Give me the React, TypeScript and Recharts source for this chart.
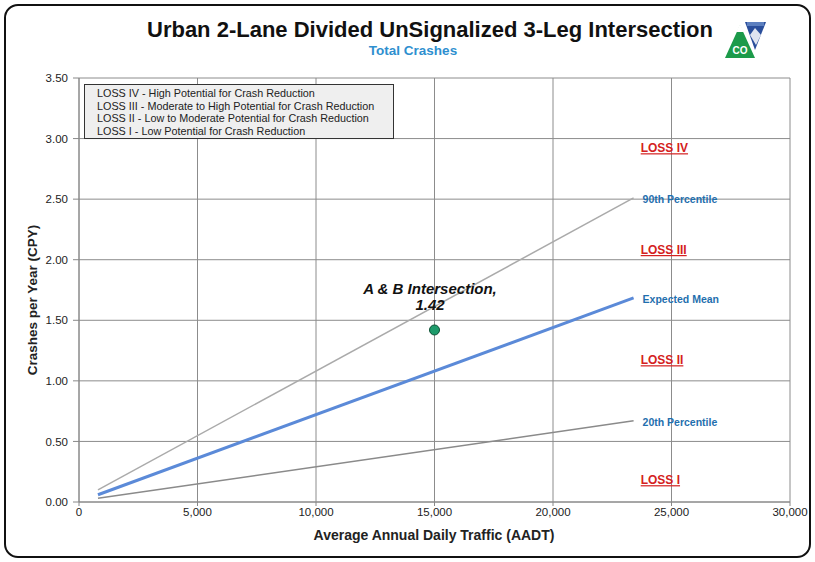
import React from 'react';
import {
  ComposedChart, Line, Scatter, XAxis, YAxis, CartesianGrid, ReferenceDot, LabelList,
} from 'recharts';

const xTicks = [0, 5000, 10000, 15000, 20000, 25000, 30000];
const yTicks = [0, 0.5, 1, 1.5, 2, 2.5, 3, 3.5];

const pct90 = [
  { aadt: 800, cpy: 0.1 },
  { aadt: 23400, cpy: 2.51 },
];
const expectedMean = [
  { aadt: 800, cpy: 0.06 },
  { aadt: 23400, cpy: 1.685 },
];
const pct20 = [
  { aadt: 800, cpy: 0.03 },
  { aadt: 23400, cpy: 0.67 },
];
const intersection = [{ aadt: 15000, cpy: 1.42, name: 'A & B Intersection' }];

const lossLabels = [
  { text: 'LOSS IV', aadt: 23700, cpy: 2.92 },
  { text: 'LOSS III', aadt: 23700, cpy: 2.08 },
  { text: 'LOSS II', aadt: 23700, cpy: 1.17 },
  { text: 'LOSS I', aadt: 23700, cpy: 0.18 },
];

const legendLines = [
  'LOSS IV - High Potential for Crash Reduction',
  'LOSS III - Moderate to High Potential for Crash Reduction',
  'LOSS II - Low to Moderate Potential for Crash Reduction',
  'LOSS I - Low Potential for Crash Reduction',
];

const FONT = '"Liberation Sans", Arial, sans-serif';

const endLabel = (text: string, count: number) => (props: any) => {
  const { x, y, index } = props;
  if (index !== count - 1) return null;
  return (
    <text x={x + 9} y={y + 5} fill="#1F6FAE" fontSize={10.5} fontWeight="bold" fontFamily={FONT}>
      {text}
    </text>
  );
};

const lossLabel = (text: string) => (props: any) => {
  const vb = props.viewBox || {};
  const cx = vb.x + (vb.width || 0) / 2;
  const cy = vb.y + (vb.height || 0) / 2;
  return (
    <text x={cx} y={cy + 4} fill="#D42020" fontSize={12} fontWeight="bold" fontFamily={FONT}
      textDecoration="underline">
      {text}
    </text>
  );
};

const pointLabel = (props: any) => {
  const { x, y, value } = props;
  return (
    <g>
      <text x={x} y={y - 31} textAnchor="middle" fontSize={15} fontWeight="bold" fontStyle="italic"
        fontFamily={FONT} fill="#111">
        A &amp; B Intersection,
      </text>
      <text x={x} y={y - 15} textAnchor="middle" fontSize={15} fontWeight="bold" fontStyle="italic"
        fontFamily={FONT} fill="#111">
        {Number(value).toFixed(2)}
      </text>
    </g>
  );
};

export default function App() {
  return (
    <div style={{ position: 'absolute', left: 0, top: 0, width: 815, height: 562, background: '#fff', fontFamily: FONT }}>
      <div style={{
        position: 'absolute', left: 4, top: 4, width: 807, height: 554,
        border: '2px solid #111', borderRadius: 14, boxSizing: 'border-box',
      }} />
      <svg style={{ position: 'absolute', left: 0, top: 0 }} width={815} height={70}>
        <text x={430} y={37} textAnchor="middle" fontSize={22} fontWeight="bold" fill="#111" fontFamily={FONT}>
          Urban 2-Lane Divided UnSignalized 3-Leg Intersection
        </text>
        <text x={413} y={55} textAnchor="middle" fontSize={13.5} fontWeight="bold" fill="#2E8FCF" fontFamily={FONT}>
          Total Crashes
        </text>
        <polygon points="740,25 725,58 755,58" fill="#1C9A4A" />
        <polygon points="736,32 740,24 744,32" fill="#fff" />
        <polygon points="745,22 766,22 755,50" fill="#2A4E9B" />
        <polygon points="750,35 755,28 761,35 756,45" fill="#fff" opacity={0.85} />
        <rect x={747} y={22} width={17} height={4} fill="#5C7FBF" />
        <text x={740} y={54} textAnchor="middle" fontSize={10} fill="#fff" fontWeight="bold">CO</text>
      </svg>
      <div style={{ position: 'absolute', left: 0, top: 0 }}>
        <ComposedChart width={815} height={562} margin={{ top: 78, right: 25, bottom: 30, left: 19 }}>
          <CartesianGrid stroke="#8c8c8c" strokeWidth={1} />
          <XAxis type="number" dataKey="aadt" domain={[0, 30000]} ticks={xTicks} allowDataOverflow
            tickFormatter={(v: number) => v.toLocaleString('en-US')} height={30}
            tick={{ fontSize: 11.5, fill: '#222', fontFamily: FONT }} stroke="#888" tickSize={4} />
          <YAxis type="number" dataKey="cpy" domain={[0, 3.5]} ticks={yTicks} width={60}
            tickFormatter={(v: number) => v.toFixed(2)}
            tick={{ fontSize: 11.5, fill: '#222', fontFamily: FONT, dx: -3 }} stroke="#888" tickSize={6} />
          <Line data={pct90} dataKey="cpy" stroke="#AAAAAA" strokeWidth={1.5} dot={false} isAnimationActive={false}>
            <LabelList dataKey="cpy" content={endLabel('90th Percentile', pct90.length)} />
          </Line>
          <Line data={expectedMean} dataKey="cpy" stroke="#5B8AD8" strokeWidth={3} dot={false} isAnimationActive={false}>
            <LabelList dataKey="cpy" content={endLabel('Expected Mean', expectedMean.length)} />
          </Line>
          <Line data={pct20} dataKey="cpy" stroke="#8A8A8A" strokeWidth={1.5} dot={false} isAnimationActive={false}>
            <LabelList dataKey="cpy" content={endLabel('20th Percentile', pct20.length)} />
          </Line>
          <Scatter data={intersection} dataKey="cpy" fill="#1E9B6B" stroke="#0B4F33" strokeWidth={1}
            shape={(p: any) => <circle cx={p.cx} cy={p.cy} r={5} fill="#1E9B6B" stroke="#0B4F33" strokeWidth={1} />}
            isAnimationActive={false}>
            <LabelList dataKey="cpy" content={pointLabel} />
          </Scatter>
          {lossLabels.map((l) => (
            <ReferenceDot key={l.text} x={l.aadt} y={l.cpy} r={0} fill="none" stroke="none"
              label={lossLabel(l.text)} />
          ))}
        </ComposedChart>
      </div>
      <div style={{
        position: 'absolute', left: 84, top: 84, width: 310, height: 55, boxSizing: 'border-box',
        background: '#EFEFEF', border: '1.5px solid #333', padding: '2px 0 0 12px',
        fontSize: 10.8, lineHeight: '12.5px', color: '#222', fontFamily: FONT,
      }}>
        {legendLines.map((t) => <div key={t} style={{ whiteSpace: 'nowrap' }}>{t}</div>)}
      </div>
      <div style={{ position: 'absolute', left: 0, width: 868, top: 527, textAlign: 'center', fontSize: 14, fontWeight: 'bold', color: '#222' }}>
        Average Annual Daily Traffic (AADT)
      </div>
      <div style={{
        position: 'absolute', left: 32, top: 300, transform: 'translate(-50%, -50%) rotate(-90deg)',
        whiteSpace: 'nowrap', fontSize: 13.5, fontWeight: 'bold', color: '#222',
      }}>
        Crashes per Year (CPY)
      </div>
    </div>
  );
}
